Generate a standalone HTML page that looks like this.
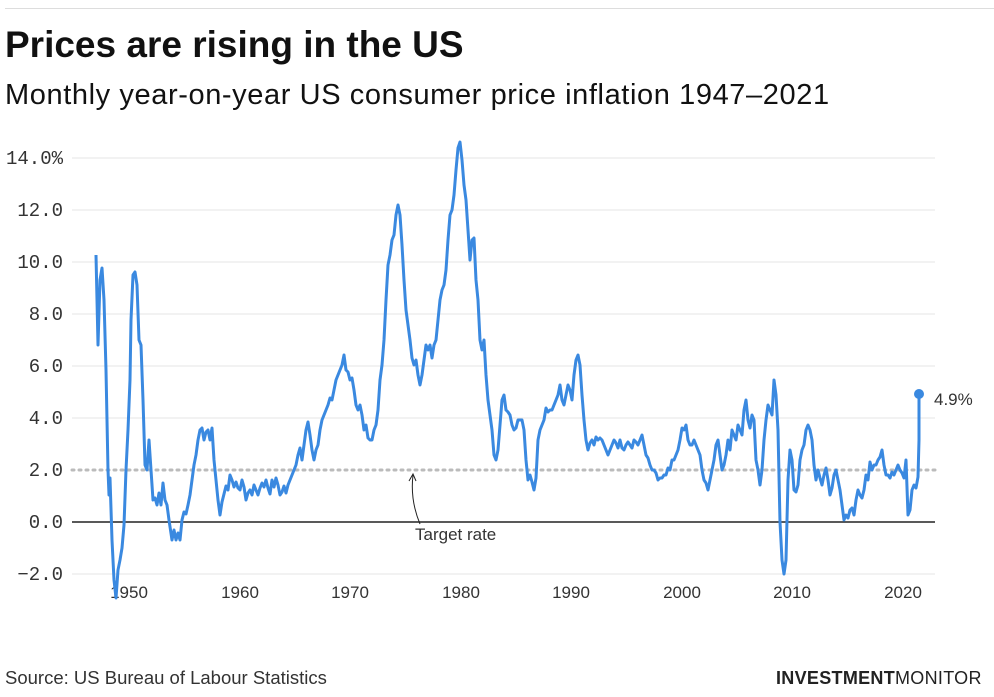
<!DOCTYPE html>
<html><head><meta charset="utf-8"><style>
body{margin:0;background:#fff;width:994px;height:697px;overflow:hidden;position:relative;font-family:"Liberation Sans",sans-serif;}
.t{position:absolute;left:5px;top:24px;font-size:37px;font-weight:bold;color:#111;letter-spacing:0px}
.s{position:absolute;left:5px;top:79px;font-size:29px;color:#111;letter-spacing:0.6px}
.src{position:absolute;left:5px;top:667px;font-size:18.5px;color:#333}
.logo{position:absolute;left:776px;top:668px;font-size:18px;color:#222;letter-spacing:0.3px}
</style></head><body>
<div style="position:absolute;left:5px;right:0;top:8px;height:1px;background:#ddd"></div>
<div class="t">Prices are rising in the US</div>
<div class="s">Monthly year-on-year US consumer price inflation 1947–2021</div>
<svg width="994" height="697" style="position:absolute;left:0;top:0">
<g stroke="#e4e4e4" stroke-width="1">
<line x1="72" x2="935" y1="158" y2="158"/><line x1="72" x2="935" y1="210" y2="210"/>
<line x1="72" x2="935" y1="262" y2="262"/><line x1="72" x2="935" y1="314" y2="314"/>
<line x1="72" x2="935" y1="366" y2="366"/><line x1="72" x2="935" y1="418" y2="418"/>
<line x1="72" x2="935" y1="574" y2="574"/>
</g>
<line x1="72" x2="935" y1="470" y2="470" stroke="#bbb" stroke-width="3" stroke-dasharray="2 5" stroke-linecap="round"/>
<line x1="72" x2="935" y1="522" y2="522" stroke="#222" stroke-width="1.5"/>
<g font-family="Liberation Mono,monospace" font-size="19" fill="#333" text-anchor="end">
<text x="63" y="164">14.0%</text><text x="63" y="216">12.0</text><text x="63" y="268">10.0</text>
<text x="63" y="320">8.0</text><text x="63" y="372">6.0</text><text x="63" y="424">4.0</text>
<text x="63" y="476">2.0</text><text x="63" y="528">0.0</text><text x="63" y="580">−2.0</text>
</g>
<g font-size="17" fill="#333" text-anchor="middle">
<text x="129" y="598">1950</text><text x="240" y="598">1960</text><text x="350" y="598">1970</text>
<text x="461" y="598">1980</text><text x="571" y="598">1990</text><text x="682" y="598">2000</text>
<text x="792" y="598">2010</text><text x="903" y="598">2020</text>
</g>
<path id="ln" fill="none" stroke="#3a89e0" stroke-width="3" stroke-linejoin="round"/>
<circle cx="919" cy="394" r="5" fill="#3a89e0"/>
<text x="934" y="405" font-size="17" fill="#333">4.9%</text>
<path d="M420 524 Q410 500 413 475" fill="none" stroke="#222" stroke-width="1"/>
<path d="M409 481 L413 474 L416 481" fill="none" stroke="#222" stroke-width="1"/>
<text x="415" y="540" font-size="17" fill="#333">Target rate</text>
</svg>
<div class="src">Source: US Bureau of Labour Statistics</div>
<div class="logo"><b>INVESTMENT</b>MONITOR</div>
<script>
var p=[96,255,98,345,100,280,102,268,104,300,106,370,108,470,109,495,110,478,112,540,114,580,116,598,118,570,120,560,122,548,124,525,126,470,128,430,130,380,131,320,133,275,135,272,137,285,139,340,141,345,143,400,145,465,147,470,149,440,151,470,153,500,155,498,157,505,159,493,161,505,163,483,165,500,167,505,169,520,172,540,174,530,176,540,178,533,180,540,182,520,184,512,186,514,188,505,190,495,192,480,194,465,196,455,198,440,200,430,202,428,204,440,206,432,208,430,210,440,212,428,214,460,216,480,218,500,220,515,222,502,224,494,226,486,228,490,230,475,232,480,234,487,236,482,238,488,240,490,242,480,244,487,246,500,248,493,250,490,252,495,254,485,256,490,258,495,260,488,262,483,264,487,266,480,268,488,270,494,272,480,274,487,276,478,278,485,280,495,282,492,284,486,286,493,288,485,290,480,292,475,294,470,296,465,298,455,300,448,302,460,304,445,306,430,308,422,310,435,312,450,314,460,316,450,318,445,320,430,322,420,324,415,326,410,328,405,330,398,332,400,334,390,336,380,338,375,340,370,342,365,344,355,346,370,348,372,350,380,352,378,354,390,356,405,358,410,360,405,362,415,364,430,366,425,368,438,370,440,372,440,374,430,376,425,378,410,380,380,382,365,384,340,386,300,388,265,390,255,392,240,394,235,396,215,398,205,400,215,402,245,404,280,406,310,408,325,410,340,412,358,414,365,416,360,418,375,420,385,422,375,424,360,426,345,428,350,430,345,432,358,434,345,436,340,438,320,440,300,442,290,444,285,446,270,448,240,450,215,452,210,454,195,456,170,458,148,460,142,462,160,464,185,466,200,468,230,470,260,472,240,474,238,476,280,478,300,480,340,482,350,484,340,486,375,488,400,490,415,492,430,494,455,496,460,498,450,500,425,502,400,504,395,506,410,508,412,510,415,512,425,514,430,516,428,518,420,520,420,522,420,524,430,526,460,528,480,530,475,532,482,534,490,536,478,538,440,540,430,542,425,544,420,546,408,548,412,550,410,552,410,554,405,556,400,558,395,560,385,562,400,564,405,566,395,568,385,570,390,572,400,574,375,576,360,578,355,580,365,582,395,584,420,586,440,588,450,590,443,592,440,594,445,596,437,598,440,600,438,602,440,604,445,606,450,608,455,610,450,612,445,614,440,616,443,618,448,620,440,622,448,624,450,626,445,628,442,630,445,632,448,634,440,636,442,638,445,640,440,642,435,644,445,646,455,648,458,650,465,652,470,654,470,656,473,658,480,660,478,662,478,664,475,666,475,668,468,670,470,672,460,674,460,676,455,678,450,680,440,682,428,684,430,686,425,688,440,690,445,692,445,694,440,696,445,698,450,700,455,702,470,704,480,706,483,708,490,710,480,712,470,714,460,716,445,718,440,720,455,722,470,724,465,726,455,728,440,730,450,732,430,734,435,736,440,738,425,740,430,742,435,744,410,746,400,748,420,750,428,752,415,754,420,756,460,758,470,760,485,762,470,764,440,766,420,768,405,770,410,772,415,774,380,776,395,778,430,780,522,782,560,784,574,786,560,788,480,790,450,792,460,794,490,796,492,798,485,800,460,802,450,804,445,806,430,808,425,810,430,812,440,814,465,816,480,818,470,820,478,822,485,824,475,826,468,828,480,830,495,832,488,834,475,836,470,838,480,840,490,842,505,844,520,846,515,848,518,850,510,852,508,854,515,856,500,858,490,860,495,862,498,864,490,866,475,868,480,870,462,872,470,874,465,876,465,878,460,880,457,882,450,884,465,886,475,888,475,890,478,892,472,894,475,896,470,898,465,900,470,902,473,904,478,906,460,908,515,910,510,912,490,914,485,916,488,918,477,919,440,919,394];
var d="M"+p[0]+" "+p[1];for(var i=2;i<p.length;i+=2)d+=" L"+p[i]+" "+p[i+1];
document.getElementById("ln").setAttribute("d",d);
</script>
</body></html>
